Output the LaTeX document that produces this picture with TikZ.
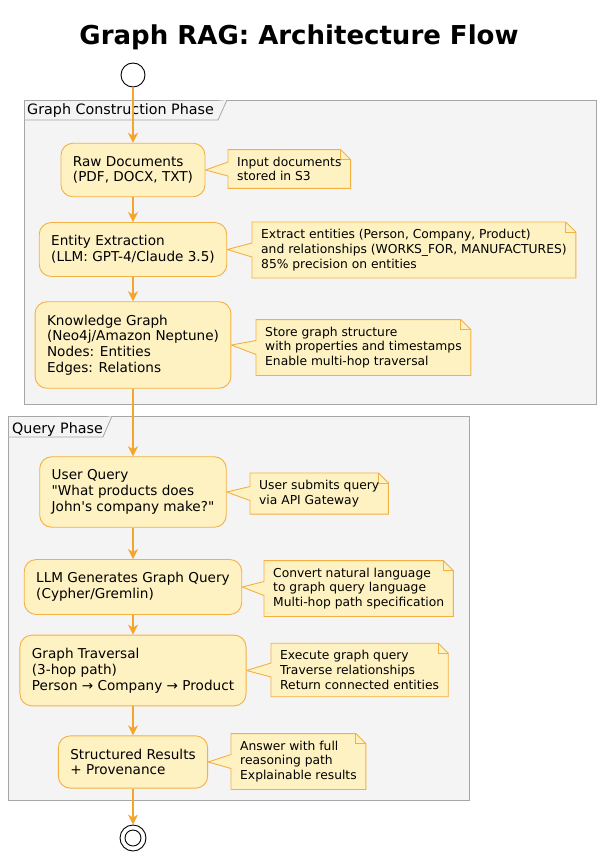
\documentclass[tikz,border=0pt]{standalone}
\usepackage{fontspec}
\setmainfont{DejaVu Sans}
\usetikzlibrary{arrows.meta,calc}

\definecolor{flow}{HTML}{F5A42C}
\definecolor{boxfill}{HTML}{FEF2C3}
\definecolor{boxline}{HTML}{F4B042}
\definecolor{groupfill}{HTML}{F4F4F4}
\definecolor{groupline}{HTML}{A6A6A6}

\pgfdeclarelayer{back}
\pgfdeclarelayer{mid}
\pgfsetlayers{back,mid,main}

\begin{document}
\begin{tikzpicture}[x=1pt, y=-1pt,
    activity/.style={draw=boxline, fill=boxfill, line width=0.9pt, rounded corners=12pt,
        align=left, inner xsep=12pt, inner ysep=13pt, font=\fontsize{13.6}{15.8}\selectfont},
    notetext/.style={anchor=west, align=left, inner xsep=9pt, inner ysep=7pt,
        font=\fontsize{12.3}{14.8}\selectfont},
    noteshape/.style={draw=boxline, fill=boxfill, line width=0.9pt},
    flowline/.style={draw=flow, line width=1.4pt, -{Stealth[length=10pt, width=10pt, inset=3pt]}},
    phase/.style={draw=groupline, fill=groupfill, line width=0.8pt},
    phasetitle/.style={anchor=base west, inner sep=0pt, font=\fontsize{14.3}{16}\selectfont}]
    \useasboundingbox (0,0) rectangle (599,856);

    % Title
    \node[anchor=base, font=\fontsize{26}{30}\selectfont\bfseries] (title) at (299,45) {Graph RAG: Architecture Flow};

    % Phase frames
    \begin{pgfonlayer}{back}
        \draw[phase] (24,100) rectangle (596,404);
        \draw[phase] (24,120) -- (218,120) -- (227,100);
        \draw[phase] (8,416) rectangle (469,800);
        \draw[phase] (8,437) -- (103,437) -- (112,416);
    \end{pgfonlayer}
    \node[phasetitle] (buildphase) at (27,115) {Graph Construction Phase};
    \node[phasetitle] (queryphase) at (12,433) {Query Phase};

    % Start and stop
    \node[circle, draw, line width=0.9pt, fill=white, minimum size=24pt, inner sep=0pt] (start) at (133,75) {};
    \node[circle, draw, line width=0.9pt, fill=white, minimum size=26pt, inner sep=0pt] (stop) at (133,838) {};
    \node[circle, draw, line width=0.9pt, minimum size=16pt, inner sep=0pt] (stopcore) at (133,838) {};

    % Activities
    \node[activity] (raw) at (133,170) {Raw Documents\\(PDF, DOCX, TXT)};
    \node[activity] (extract) at (133,249.5) {Entity Extraction\\(LLM: GPT-4/Claude 3.5)};
    \node[activity] (kgraph) at (133,345) {Knowledge Graph\\(Neo4j/Amazon Neptune)\\Nodes: Entities\\Edges: Relations};
    \node[activity] (uquery) at (133,492) {User Query\\\textquotedbl What products does\\John\textquotesingle s company make?\textquotedbl};
    \node[activity] (genquery) at (133,587) {LLM Generates Graph Query\\(Cypher/Gremlin)};
    \node[activity] (traverse) at (133,670.5) {Graph Traversal\\(3-hop path)\\Person → Company → Product};
    \node[activity] (results) at (133,762) {Structured Results\\+ Provenance};

    % Notes
    \node[notetext] (rawnote) at (228,169) {Input documents\\stored in S3};
    \node[notetext] (extractnote) at (252,250) {Extract entities (Person, Company, Product)\\and relationships (WORKS\_FOR, MANUFACTURES)\\85\% precision on entities};
    \node[notetext] (kgnote) at (256,347.5) {Store graph structure\\with properties and timestamps\\Enable multi-hop traversal};
    \node[notetext] (uqnote) at (250,493.5) {User submits query\\via API Gateway};
    \node[notetext] (gqnote) at (264,588.5) {Convert natural language\\to graph query language\\Multi-hop path specification};
    \node[notetext] (travnote) at (271,670) {Execute graph query\\Traverse relationships\\Return connected entities};
    \node[notetext] (resnote) at (231,761.5) {Answer with full\\reasoning path\\Explainable results};

    % Note outlines with pointer and folded corner
    \begin{pgfonlayer}{mid}
        \foreach \b/\n in {raw/rawnote, extract/extractnote, kgraph/kgnote, uquery/uqnote,
            genquery/gqnote, traverse/travnote, results/resnote} {
            \filldraw[noteshape] (\n.north west) -- ($(\n.north east)+(-10,0)$) -- ($(\n.north east)+(0,10)$)
                -- (\n.south east) -- (\n.south west) -- ($(\n.west)+(0,7)$) -- (\b.east)
                -- ($(\n.west)+(0,-7)$) -- cycle;
            \draw[noteshape, fill=none] ($(\n.north east)+(-10,0)$) |- ($(\n.north east)+(0,10)$);
        }
    \end{pgfonlayer}

    % Flow
    \draw[flowline] (start) -- (raw);
    \draw[flowline] (raw) -- (extract);
    \draw[flowline] (extract) -- (kgraph);
    \draw[flowline] (kgraph) -- (uquery);
    \draw[flowline] (uquery) -- (genquery);
    \draw[flowline] (genquery) -- (traverse);
    \draw[flowline] (traverse) -- (results);
    \draw[flowline] (results) -- (stop);
\end{tikzpicture}
\end{document}
